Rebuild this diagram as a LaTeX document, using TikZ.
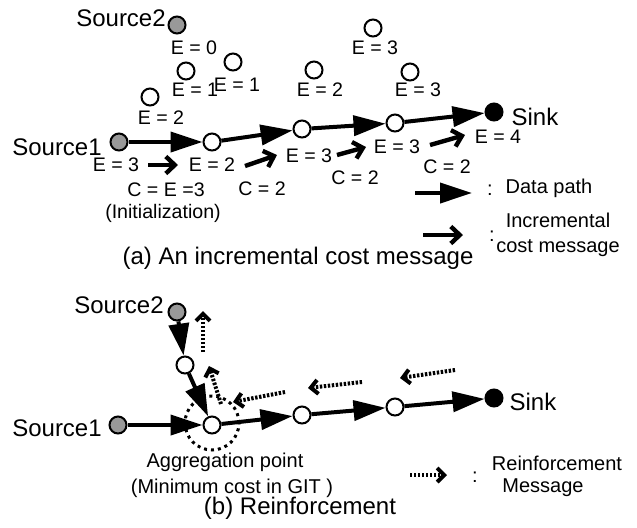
\documentclass[tikz,border=0pt]{standalone}
\usepackage{fontspec}
\setmainfont{Liberation Sans}
\usetikzlibrary{arrows.meta}

\begin{document}
\begin{tikzpicture}[x=0.5pt,y=-0.5pt,
    sensor/.style={circle,draw,line width=1pt,inner sep=0pt,minimum size=8.5pt,fill=white},
    src/.style={sensor,fill=black!40},
    snk/.style={sensor,fill=black},
    datapath/.style={line width=2pt,-{Triangle[length=16pt,width=10pt]}},
    costmsg/.style={line width=2.2pt,line join=round,-{Straight Barb[length=4.5pt,width=8.5pt]}},
    reinf/.style={line width=2pt,dash pattern=on 1.2pt off 0.8pt,-{Straight Barb[length=3.5pt,width=7pt]}},
    elab/.style={font=\fontsize{9.8}{11}\selectfont},
    big/.style={font=\fontsize{12}{14}\selectfont},
    mid/.style={font=\fontsize{10}{12.5}\selectfont}]
\useasboundingbox (0,0) rectangle (637,527);

% (a) incremental cost message
\node[src] (srcA2) at (177,25) {};
\node[big] (srcA2l) at (121,18) {Source2};
\node[src] (srcA1) at (119,142) {};
\node[big] (srcA1l) at (57,147) {Source1};
\node[sensor] (a1) at (212,142) {};
\node[sensor] (a2) at (302,129) {};
\node[sensor] (a3) at (395,123) {};
\node[snk] (sinkA) at (494,112) {};
\node[big] (sinkAl) at (535,117) {Sink};

\node[sensor] (t1) at (233,62) {};
\node[sensor] (t2) at (186,71) {};
\node[sensor] (t3) at (150,97) {};
\node[sensor] (t4) at (314,70) {};
\node[sensor] (t5) at (373,28) {};
\node[sensor] (t6) at (410,72) {};

\node[elab] (e0) at (194,48) {E = 0};
\node[elab] (e1) at (237,85) {E = 1};
\node[elab] (e2) at (195,90) {E = 1};
\node[elab] (e3) at (161,118) {E = 2};
\node[elab] (e4) at (320,90) {E = 2};
\node[elab] (e5) at (375,48) {E = 3};
\node[elab] (e6) at (418,90) {E = 3};

\draw[datapath] (srcA1) -- (a1);
\draw[datapath] (a1) -- (a2);
\draw[datapath] (a2) -- (a3);
\draw[datapath] (a3) -- (sinkA);

\node[elab] (p0) at (116,165) {E = 3};
\node[elab] (p1) at (212,165) {E = 2};
\node[elab] (p2) at (309,156) {E = 3};
\node[elab] (p3) at (397,147) {E = 3};
\node[elab] (p4) at (498,137) {E = 4};
\node[elab] (q0) at (166,190) {C = E =3};
\node[elab] (q0b) at (163,213) {(Initialization)};
\node[elab] (q1) at (262,189) {C = 2};
\node[elab] (q2) at (355,178) {C = 2};
\node[elab] (q3) at (447,167) {C = 2};

\coordinate (c1a) at (148,165); \coordinate (c1b) at (178,165);
\coordinate (c2a) at (245,166); \coordinate (c2b) at (277,155);
\coordinate (c3a) at (337,155); \coordinate (c3b) at (366,147);
\coordinate (c4a) at (430,145); \coordinate (c4b) at (465,135);
\draw[costmsg] (c1a) -- (c1b);
\draw[costmsg] (c2a) -- (c2b);
\draw[costmsg] (c3a) -- (c3b);
\draw[costmsg] (c4a) -- (c4b);

% legend (a)
\coordinate (lgA1) at (415,193); \coordinate (lgA2) at (472,193);
\draw[datapath] (lgA1) -- (lgA2);
\node[mid] (colA1) at (490,190) {:};
\node[mid] (lgA1l) at (549,188) {Data path};
\coordinate (lgB1) at (423,235); \coordinate (lgB2) at (463,235);
\draw[costmsg] (lgB1) -- (lgB2);
\node[mid] (colA2) at (492,236) {:};
\node[mid,align=center] (lgB1l) at (558,235) {Incremental\\cost message};

\node[big] (capA) at (298,258) {(a) An incremental cost message};

% (b) reinforcement
\draw[line width=1.5pt,dash pattern=on 1.5pt off 2pt] (212,423) circle[radius=13.5pt];
\node[src] (srcB2) at (177,312) {};
\node[big] (srcB2l) at (119,305) {Source2};
\node[sensor] (b0) at (185,365) {};
\node[src] (srcB1) at (118,425) {};
\node[big] (srcB1l) at (57,428) {Source1};
\node[sensor] (agg) at (212,425) {};
\node[sensor] (b1) at (302,415) {};
\node[sensor] (b2) at (395,407) {};
\node[snk] (sinkB) at (494,398) {};
\node[big] (sinkBl) at (533,402) {Sink};

\draw[datapath] (srcB2) -- (b0);
\draw[datapath] (b0) -- (agg);
\draw[datapath] (srcB1) -- (agg);
\draw[datapath] (agg) -- (b1);
\draw[datapath] (b1) -- (b2);
\draw[datapath] (b2) -- (sinkB);

\coordinate (r1a) at (203,352); \coordinate (r1b) at (203,311);
\coordinate (r2a) at (221,404); \coordinate (r2b) at (209,366);
\coordinate (r3a) at (285,392); \coordinate (r3b) at (233,402);
\coordinate (r4a) at (362,382); \coordinate (r4b) at (308,388);
\coordinate (r5a) at (455,370); \coordinate (r5b) at (400,378);
\draw[reinf] (r1a) -- (r1b);
\draw[reinf] (r2a) -- (r2b);
\draw[reinf] (r3a) -- (r3b);
\draw[reinf] (r4a) -- (r4b);
\draw[reinf] (r5a) -- (r5b);

\node[mid] (aggl) at (225,462) {Aggregation point};
\node[mid] (aggl2) at (232,488) {(Minimum cost in GIT )};

% legend (b)
\coordinate (lgC1) at (410,475); \coordinate (lgC2) at (447,475);
\draw[reinf] (lgC1) -- (lgC2);
\node[mid] (colB) at (475,477) {:};
\node[mid] (lgC1l) at (557,463) {Reinforcement};
\node[mid] (lgC2l) at (543,488) {Message};

\node[big] (capB) at (300,508) {(b) Reinforcement};
\end{tikzpicture}
\end{document}
